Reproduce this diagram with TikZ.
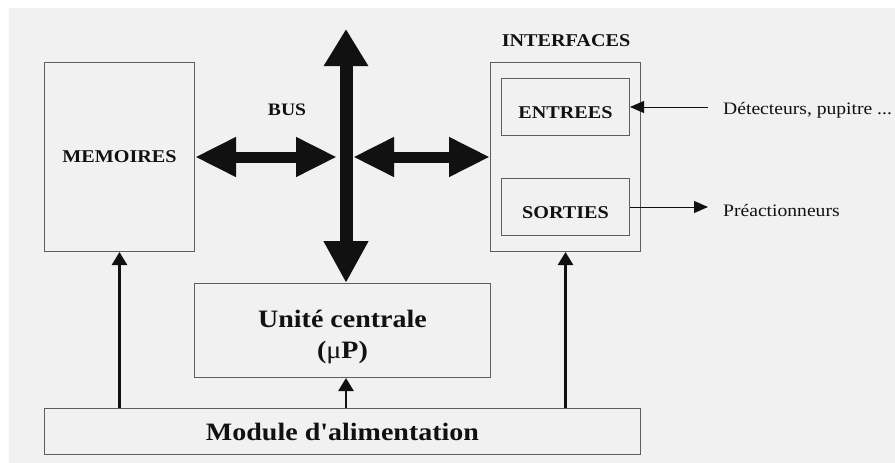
\documentclass[tikz,border=0pt]{standalone}
\usepackage{fontspec}
\setmainfont{Liberation Serif}[FakeStretch=1.12, Ligatures=TeXOff]
\usetikzlibrary{arrows.meta}
\definecolor{bg}{HTML}{F1F1F1}
\definecolor{boxline}{HTML}{5E5E5E}
\definecolor{ink}{HTML}{111111}
\newcommand{\fs}[1]{\fontsize{#1}{#1}\selectfont}
\newcommand{\lowerby}[2]{\raisebox{-#1}[\height][\depth]{#2}}
\begin{document}
\begin{tikzpicture}[x=1pt,y=-1pt,
  box/.style={draw=boxline, line width=1pt, inner sep=0pt, anchor=north west, text=ink, font=\bfseries\fs{18}},
  lbl/.style={text=ink, inner sep=0pt},
  busv/.style={draw=ink, line width=13pt, {Triangle[length=37pt,width=42pt]}-{Triangle[length=42pt,width=42pt]}},
  bush/.style={draw=ink, line width=11pt, {Triangle[length=41pt,width=37pt]}-{Triangle[length=41pt,width=37pt]}},
  pwr/.style={draw=ink, line width=2.6pt, -{Triangle[length=13pt,width=15pt]}},
  io/.style={draw=ink, line width=1pt, -{Triangle[length=14pt,width=12pt]}}
]
\useasboundingbox (0,0) rectangle (895,463);
\fill[white] (0,0) rectangle (895,463);
\fill[bg] (9,8) rectangle (895,463);

% boxes
\node[box, minimum width=150pt, minimum height=189pt] (mem) at (44,62) {MEMOIRES};
\node[box, minimum width=150pt, minimum height=189pt] (itf) at (490,62) {};
\node[box, minimum width=128pt, minimum height=57pt] (ent) at (501,78) {\lowerby{6pt}{ENTREES}};
\node[box, minimum width=128pt, minimum height=57pt] (sor) at (501,178) {\lowerby{6pt}{SORTIES}};
\node[box, minimum width=296pt, minimum height=94pt, font=\bfseries\fs{25}] (uc) at (194,283)
  {\lowerby{7pt}{\begin{tabular}{@{}c@{}}Unité centrale\\[6pt](\textmd{μ}P)\end{tabular}}};
\node[box, minimum width=596pt, minimum height=46pt, font=\bfseries\fs{25}] (mod) at (44,408) {Module d'alimentation};

% labels
\node[lbl, font=\bfseries\fs{17.5}] (bus) at (287,110) {BUS};
\node[lbl, font=\bfseries\fs{18}] (itflbl) at (566,41) {INTERFACES};
\node[lbl, anchor=west, font=\fs{17.5}] (det) at (723,110) {Détecteurs, pupitre ...};
\node[lbl, anchor=west, font=\fs{17.5}] (pre) at (723,210) {Préactionneurs};

% bus arrows
\coordinate (bustop) at (346,29);
\coordinate (busL) at (337,157);
\coordinate (busR) at (353,157);
\draw[busv] (bustop) -- (bustop |- uc.north);
\draw[bush] (mem.east) -- (busL |- mem.east);
\draw[bush] (busR |- mem.east) -- (itf.west);

% io arrows
\coordinate (detend) at (708,107);
\coordinate (preend) at (708,207);
\draw[io] (detend) -- (detend -| ent.east);
\draw[io] (sor.east |- preend) -- (preend);

% power arrows
\draw[pwr] (mem.south |- mod.north) -- (mem.south);
\draw[pwr] (bustop |- mod.north) -- (bustop |- uc.south);
\draw[pwr] (itf.south |- mod.north) -- (itf.south);
\end{tikzpicture}
\end{document}
